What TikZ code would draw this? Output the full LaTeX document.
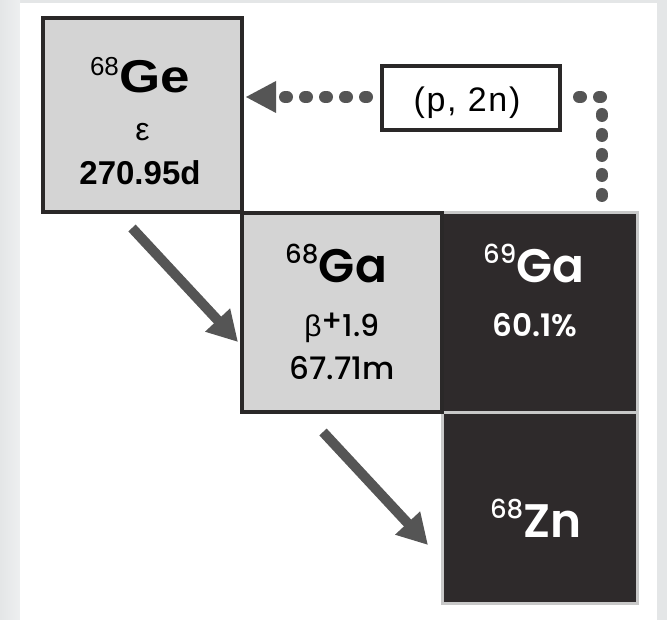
\documentclass[tikz,border=0pt]{standalone}
\usepackage{fontspec}
\setmainfont{Liberation Sans}
\newfontfamily\gothicmed{Poppins Medium}
\newfontfamily\gothicsemi{Poppins SemiBold}
\usetikzlibrary{arrows.meta}

\definecolor{pagegray}{HTML}{E4E6E7}
\definecolor{sidegray}{HTML}{EEEFF0}
\definecolor{cellgray}{HTML}{D4D4D4}
\definecolor{ink}{HTML}{2A2828}
\definecolor{darkcell}{HTML}{2E2A2B}
\definecolor{rimgray}{HTML}{C8C8C8}
\definecolor{arrowgray}{HTML}{555555}

% superscripted mass number in front of an element symbol
\newcommand{\massno}[3]{{\fontsize{#3}{#3}\selectfont\raisebox{#2}{#1}}\kern0.5pt}

\tikzset{
  lightcell/.style={draw=ink, line width=4pt, fill=cellgray, inner sep=0pt},
  darkcell/.style={draw=rimgray, line width=3pt, fill=darkcell, inner sep=0pt},
  reactbox/.style={draw=ink, line width=3.5pt, fill=white, inner sep=0pt,
    minimum width=178pt, minimum height=64pt},
  decayarrow/.style={draw=arrowgray, line width=10pt,
    -{Triangle[length=30pt,width=32pt]}},
  dotline/.style={draw=arrowgray, line width=12pt, line cap=round,
    dash pattern=on 2pt off 18pt},
  txt/.style={anchor=base, inner sep=0pt},
}

\begin{document}
\begin{tikzpicture}[x=1pt,y=-1pt]
\useasboundingbox (0,0) rectangle (667,620);
% page background
\fill[pagegray] (0,0) rectangle (667,620);
\fill[left color=pagegray, right color=sidegray] (0,0) rectangle (20,620);
\fill[white] (20,3) rectangle (657,620);

% stable nuclides (dark cells)
\node[darkcell, minimum width=195pt, minimum height=199pt] (ga69) at (539.5,312.5) {};
\node[darkcell, minimum width=195pt, minimum height=191pt] (zn68) at (539.5,507.5) {};
% radioactive nuclides (light cells)
\node[lightcell, minimum width=199pt, minimum height=194pt] (ge68) at (142.5,115) {};
\node[lightcell, minimum width=200pt, minimum height=199pt] (ga68) at (342,312.5) {};

% cell texts
\node[txt] at (140,93) {\massno{68}{17pt}{26}\scalebox{1.15}[1]{\fontsize{46}{46}\selectfont\bfseries Ge}};
\node[txt] at (142.5,141) {\fontsize{32}{32}\selectfont ε};
\node[txt] at (140,185) {\fontsize{33}{33}\selectfont\bfseries 270.95d};

\node[txt] at (336,283) {\gothicmed\massno{68}{19pt}{26}\gothicsemi\fontsize{47}{47}\selectfont Ga};
\node[txt] at (342,337) {\fontsize{30}{30}\selectfont β\gothicmed\raisebox{5pt}{+}1.9};
\node[txt] at (342,380) {\gothicmed\fontsize{31}{31}\selectfont 67.71m};

\node[txt, text=white] at (534,283) {\gothicmed\massno{69}{19pt}{26}\gothicsemi\fontsize{47}{47}\selectfont Ga};
\node[txt, text=white] at (535,337) {\gothicsemi\fontsize{31}{31}\selectfont 60.1\%};

\node[txt, text=white] at (536,537) {\gothicmed\massno{68}{19pt}{26}\gothicsemi\fontsize{47}{47}\selectfont Zn};

% reaction label
\node[reactbox] (p2n) at (471,98) {};
\node[txt] at (467,112) {\fontsize{34}{34}\selectfont\addfontfeature{LetterSpace=5}(p, 2n)};

% production route: 69Ga(p,2n)68Ge
\coordinate (up) at (602,211);
\coordinate (corner) at (602,97);
\coordinate (rx) at (579,97);
\coordinate (lx) at (367,97);
\coordinate (lend) at (274,97);
\coordinate (tip) at (246,97);
\draw[dotline] (rx) -- (corner) -- (up);
\draw[dotline] (lx) -- (lend);
\fill[arrowgray] (tip) -- (276,81) -- (276,113) -- cycle;

% decay chain
\coordinate (d1s) at (132,228);
\coordinate (d1e) at (238,342);
\coordinate (d2s) at (323,432);
\coordinate (d2e) at (428,545);
\draw[decayarrow] (d1s) -- (d1e);
\draw[decayarrow] (d2s) -- (d2e);
\end{tikzpicture}
\end{document}
